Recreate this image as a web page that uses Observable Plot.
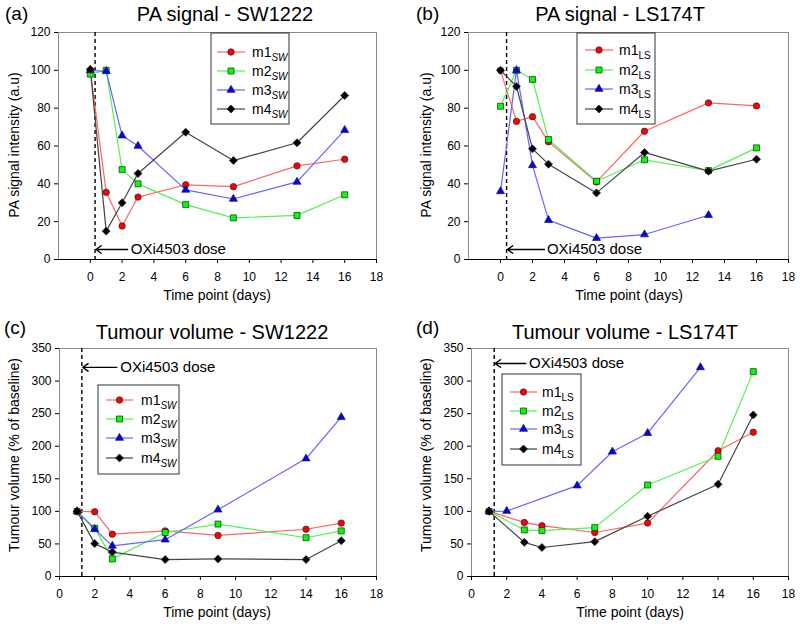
<!DOCTYPE html>
<html><head><meta charset="utf-8">
<script src="https://cdn.jsdelivr.net/npm/d3@7"></script>
<script src="https://cdn.jsdelivr.net/npm/@observablehq/plot@0.6"></script>
<style>
body{margin:0;background:#fff;}
#root{position:relative;width:800px;height:627px;font-family:"Liberation Sans",Arial,sans-serif;}
#root svg{position:absolute;overflow:visible;}
</style></head><body><div id="root"></div>
<script>
// ---------- Data ----------
const seriesNames = ["m1", "m2", "m3", "m4"];
const xTickLabels = [0, 2, 4, 6, 8, 10, 12, 14, 16, 18];
const paTickLabels = [0, 20, 40, 60, 80, 100, 120];
const tvTickLabels = [0, 50, 100, 150, 200, 250, 300, 350];

// (a) PA signal - SW1222
const paSW_days = [0, 1, 2, 3, 6, 9, 13, 16];
const paSW_m1 = [100, 35.5, 17.7, 33, 39.5, 38.5, 49.5, 53];
const paSW_m2 = [98, 100, 47.5, 40, 29, 22, 23.3, 34.2];
const paSW_m3 = [100, 99.5, 65.5, 60, 36.8, 32, 41, 68.4];
const paSW_m4 = [100.5, 15, 30, 45.5, 67.3, 52.3, 61.7, 86.7];

// (b) PA signal - LS174T
const paLS_days = [0, 1, 2, 3, 6, 9, 13, 16];
const paLS_m3_days = [0, 1, 2, 3, 6, 9, 13];
const paLS_m1 = [100, 73, 75.5, 62.2, 41, 67.8, 82.8, 81.2];
const paLS_m2 = [81, 100, 95.2, 63.4, 41.4, 52.7, 47, 59];
const paLS_m3 = [36, 100, 49.8, 20.8, 11.3, 13.2, 23.4];
const paLS_m4 = [100, 91.5, 58.5, 50.4, 35.2, 56.6, 46.7, 53];

// (c) Tumour volume - SW1222
const tvSW_days = [1, 2, 3, 6, 9, 14, 16];
const tvSW_m1 = [100, 99.5, 65, 70, 63, 72.5, 82];
const tvSW_m2 = [100, 74, 27, 67.5, 80.5, 59.5, 70];
const tvSW_m3 = [100, 72.5, 47, 56.5, 102.5, 181, 244.5];
const tvSW_m4 = [100, 50.5, 37.5, 26, 27, 26, 55];

// (d) Tumour volume - LS174T
const tvLS_days = [1, 3, 4, 7, 10, 14, 16];
const tvLS_m3_days = [1, 2, 6, 8, 10, 13];
const tvLS_m1 = [100, 83, 78, 67.5, 82, 193, 221.5];
const tvLS_m2 = [100, 71.5, 70.5, 75, 140.5, 184.5, 314.5];
const tvLS_m3 = [100, 100.5, 139.5, 191.5, 220, 321];
const tvLS_m4 = [100, 52.5, 44.5, 53.5, 92.5, 141.5, 248];

// OXi4503 dose annotation: [dose day, arrow y, arrow start x, text x]
const doseA = [0.3, 5.3, 2.35, 2.55];
const doseB = [0.38, 5.3, 2.75, 2.9];
const doseC = [1.27, 321, 3.25, 3.45];
const doseD = [1.29, 327, 3.08, 3.27];

// ---------- Styles ----------
const markerColors = ["#ff0000", "#00ff00", "#0000ff", "#000000"];
const lineColors = ["#ff6464", "#55f055", "#6464ff", "#444444"];
const symbols = ["circle", "square", "triangle", "diamond2"];
const d3symbols = [d3.symbolCircle, d3.symbolSquare, d3.symbolTriangle, d3.symbolDiamond2];
const radii = [3.2, 3.4, 3.0, 3.6];
const FONT = '"Liberation Sans", Arial, sans-serif';

function toRows(days, values) {
  return days.map((d, i) => ({day: d, value: values[i]}));
}

function panel(cfg) {
  const marks = [
    Plot.frame({stroke: "#8a8a8a"}),
    Plot.ruleY([cfg.y[0]], {stroke: "#000", strokeWidth: 1}),
    Plot.ruleX([cfg.dose[0]], {stroke: "#000", strokeWidth: 1.4, strokeDasharray: "4,3"}),
    Plot.arrow([cfg.dose], {x1: d => d[2], y1: d => d[1], x2: d => d[0] + 0.05, y2: d => d[1],
      stroke: "#000", strokeWidth: 1.4, headLength: 7, headAngle: 70}),
    Plot.text([cfg.dose], {x: d => d[3], y: d => d[1], text: () => "OXi4503 dose",
      textAnchor: "start", fontSize: 15, fill: "#000"})
  ];
  cfg.series.forEach((s, i) => {
    const rows = toRows(s.days, s.values);
    marks.push(Plot.line(rows, {x: "day", y: "value", stroke: lineColors[i], strokeWidth: 1.2}));
  });
  cfg.series.forEach((s, i) => {
    const rows = toRows(s.days, s.values);
    marks.push(Plot.dot(rows, {x: "day", y: "value", symbol: () => symbols[i], fill: markerColors[i],
      stroke: "#222", strokeWidth: 0.7, r: radii[i]}));
  });
  marks.push(Plot.axisX({ticks: xTickLabels, tickSize: 4, tickPadding: 9, label: null, fontSize: 12}));
  marks.push(Plot.axisY({ticks: cfg.yTicks, tickSize: 4, tickPadding: 4, label: null, fontSize: 12}));

  const svg = Plot.plot({
    width: 400, height: cfg.height,
    marginTop: cfg.m[0], marginRight: cfg.m[1], marginBottom: cfg.m[2], marginLeft: cfg.m[3],
    x: {domain: cfg.x}, y: {domain: cfg.y},
    symbol: {type: "identity"},
    style: {fontFamily: FONT, fontSize: "12px", color: "#000", background: "transparent", overflow: "visible"},
    marks
  });
  svg.style.left = cfg.left + "px";
  svg.style.top = cfg.top + "px";
  const s = d3.select(svg);
  s.selectAll("[aria-label^='x-axis'] text, [aria-label^='y-axis'] text").attr("fill", "#000");

  // titles
  s.append("text").attr("x", cfg.tag[0]).attr("y", cfg.tag[1]).attr("font-size", 19)
    .attr("text-anchor", "start").attr("font-family", FONT).text(cfg.tagText);
  s.append("text").attr("x", cfg.title[0]).attr("y", cfg.title[1]).attr("font-size", 20)
    .attr("font-family", FONT).attr("text-anchor", "middle").text(cfg.titleText);
  // axis labels
  s.append("text").attr("x", cfg.xl[0]).attr("y", cfg.xl[1]).attr("font-size", 14)
    .attr("font-family", FONT).attr("text-anchor", "middle").text("Time point (days)");
  s.append("text").attr("transform", `translate(${cfg.yl[0]},${cfg.yl[1]}) rotate(-90)`)
    .attr("font-size", 14).attr("font-family", FONT).attr("text-anchor", "middle").text(cfg.ylText);

  // legend
  const L = cfg.legend;
  const g = s.append("g").attr("text-anchor", "start");
  g.append("rect").attr("x", L.box[0]).attr("y", L.box[1]).attr("width", L.box[2]).attr("height", L.box[3])
    .attr("fill", "#fff").attr("stroke", "#333").attr("stroke-width", 1);
  cfg.series.forEach((sr, i) => {
    const y = L.rows[i];
    g.append("line").attr("x1", L.line[0]).attr("x2", L.line[1]).attr("y1", y).attr("y2", y)
      .attr("stroke", lineColors[i]).attr("stroke-width", 1.2);
    g.append("path").attr("d", d3.symbol(d3symbols[i], Math.PI * radii[i] * radii[i])())
      .attr("transform", `translate(${(L.line[0] + L.line[1]) / 2},${y})`)
      .attr("fill", markerColors[i]).attr("stroke", "#222").attr("stroke-width", 0.7);
    const t = g.append("text").attr("x", L.text).attr("y", y + 5).attr("font-size", 14)
      .attr("text-anchor", "start").attr("font-family", FONT);
    t.append("tspan").text(seriesNames[i]);
    t.append("tspan").attr("dy", 4).attr("font-size", 10)
      .attr("font-style", cfg.sub === "SW" ? "italic" : "normal").text(cfg.sub);
  });
  return svg;
}

const root = document.getElementById("root");

root.appendChild(panel({
  left: 0, top: 0, height: 310, m: [32, 24, 51, 58], x: [-2, 18], y: [0, 120], yTicks: paTickLabels,
  dose: doseA, sub: "SW",
  series: [
    {days: paSW_days, values: paSW_m1}, {days: paSW_days, values: paSW_m2},
    {days: paSW_days, values: paSW_m3}, {days: paSW_days, values: paSW_m4}
  ],
  tag: [5, 20], tagText: "(a)", title: [225, 21], titleText: "PA signal - SW1222",
  xl: [217, 300], yl: [19, 145], ylText: "PA signal intensity (a.u)",
  legend: {box: [211, 33, 78, 91], rows: [52, 71, 90, 109], line: [217, 245], text: 252}
}));

root.appendChild(panel({
  left: 400, top: 0, height: 310, m: [32, 12, 51, 68], x: [-2, 18], y: [0, 120], yTicks: paTickLabels,
  dose: doseB, sub: "LS",
  series: [
    {days: paLS_days, values: paLS_m1}, {days: paLS_days, values: paLS_m2},
    {days: paLS_m3_days, values: paLS_m3}, {days: paLS_days, values: paLS_m4}
  ],
  tag: [16, 20], tagText: "(b)", title: [220, 21], titleText: "PA signal - LS174T",
  xl: [229, 300], yl: [31, 145], ylText: "PA signal intensity (a.u)",
  legend: {box: [177, 33, 78, 91], rows: [50, 70, 89, 109], line: [185, 213], text: 219}
}));

root.appendChild(panel({
  left: 0, top: 310, height: 317, m: [38, 24, 51, 59], x: [0, 18], y: [0, 350], yTicks: tvTickLabels,
  dose: doseC, sub: "SW",
  series: [
    {days: tvSW_days, values: tvSW_m1}, {days: tvSW_days, values: tvSW_m2},
    {days: tvSW_days, values: tvSW_m3}, {days: tvSW_days, values: tvSW_m4}
  ],
  tag: [4, 24], tagText: "(c)", title: [212, 29], titleText: "Tumour volume - SW1222",
  xl: [217, 307], yl: [19, 145], ylText: "Tumour volume (% of baseline)",
  legend: {box: [98, 75, 81, 89], rows: [90, 109, 128, 148], line: [106, 133], text: 141}
}));

root.appendChild(panel({
  left: 400, top: 310, height: 317, m: [38, 12, 51, 71], x: [0, 18], y: [0, 350], yTicks: tvTickLabels,
  dose: doseD, sub: "LS",
  series: [
    {days: tvLS_days, values: tvLS_m1}, {days: tvLS_days, values: tvLS_m2},
    {days: tvLS_m3_days, values: tvLS_m3}, {days: tvLS_days, values: tvLS_m4}
  ],
  tag: [16, 24], tagText: "(d)", title: [225, 29], titleText: "Tumour volume - LS174T",
  xl: [230, 307], yl: [31, 145], ylText: "Tumour volume (% of baseline)",
  legend: {box: [102, 64, 79, 91], rows: [82, 101, 119, 139], line: [110, 137], text: 142}
}));
</script></body></html>
